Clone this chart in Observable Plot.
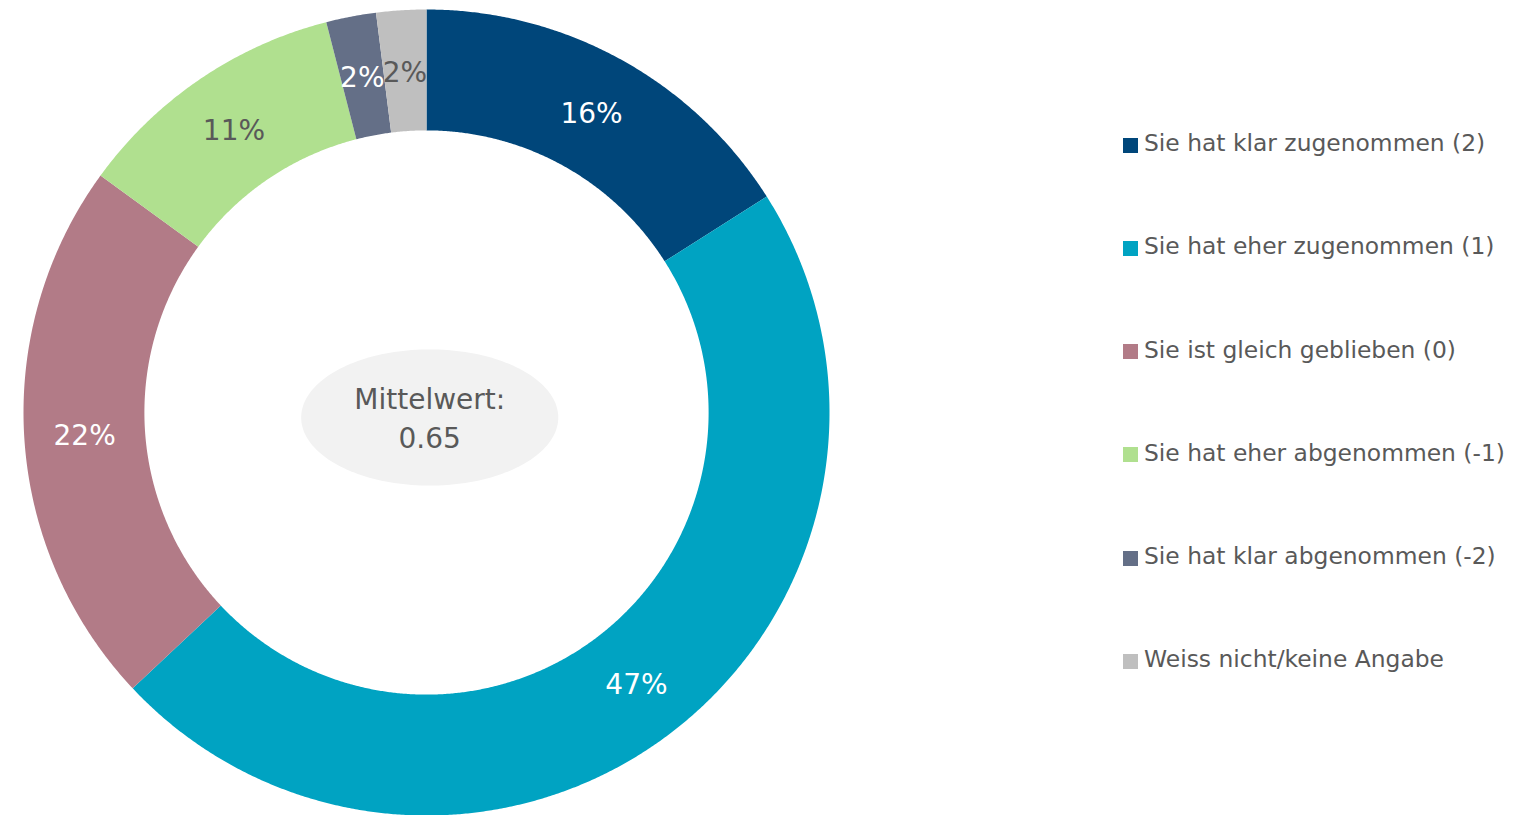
<!DOCTYPE html>
<html>
<head>
<meta charset="utf-8">
<script src="https://cdn.jsdelivr.net/npm/d3@7"></script>
<script src="https://cdn.jsdelivr.net/npm/@observablehq/plot@0.6"></script>
<style>
  html, body { margin: 0; padding: 0; background: #fff; }
  #wrap { position: relative; width: 1526px; height: 815px; overflow: hidden; font-family: "DejaVu Sans", Verdana, sans-serif; }
  #chart { position: absolute; left: 0; top: 0; }
  #legend { position: absolute; left: 1123px; top: 124px; }
  .item { display: flex; align-items: center; margin: 0; color: #595959; font-size: 23.4px; white-space: nowrap; height: 38px; margin-bottom: 65.3px; }
  .item .sw { width: 15px; height: 15px; margin-right: 6px; margin-top: 4px; flex: none; }
</style>
</head>
<body>
<div id="wrap">
  <div id="chart"></div>
  <div id="legend"></div>
</div>
<script>
const categories = [
  "Sie hat klar zugenommen (2)",
  "Sie hat eher zugenommen (1)",
  "Sie ist gleich geblieben (0)",
  "Sie hat eher abgenommen (-1)",
  "Sie hat klar abgenommen (-2)",
  "Weiss nicht/keine Angabe"
];
const shares = [16, 47, 22, 11, 2, 2];
const colors = ["#00467a", "#00a3c2", "#b27b87", "#b0e08f", "#646f87", "#bfbfbf"];
const labelColors = ["#ffffff", "#ffffff", "#ffffff", "#595959", "#ffffff", "#595959"];
const meanLabel = "Mittelwert:";
const meanValue = "0.65";

const R1 = 1, R0 = 0.70;
const total = d3.sum(shares);
let cum = 0;
const slices = categories.map((c, i) => {
  const a0 = cum / total * 2 * Math.PI;
  cum += shares[i];
  const a1 = cum / total * 2 * Math.PI;
  return {cat: c, value: shares[i], a0, a1, i};
});

// polygon outline of each ring segment (computed from data)
const ringPts = [];
for (const s of slices) {
  const n = Math.max(8, Math.ceil((s.a1 - s.a0) / 0.005));
  for (let k = 0; k <= n; k++) {
    const a = s.a0 + (s.a1 - s.a0) * k / n;
    ringPts.push({cat: s.cat, x: R1 * Math.sin(a), y: R1 * Math.cos(a)});
  }
  for (let k = n; k >= 0; k--) {
    const a = s.a0 + (s.a1 - s.a0) * k / n;
    ringPts.push({cat: s.cat, x: R0 * Math.sin(a), y: R0 * Math.cos(a)});
  }
}

const labels = slices.map(s => {
  const a = (s.a0 + s.a1) / 2, r = (R0 + R1) / 2;
  return {x: r * Math.sin(a), y: r * Math.cos(a), text: s.value + "%", color: labelColors[s.i]};
});

// center ellipse
const ell = d3.range(0, 361, 2).map(t => ({
  x: 0.008 + 0.319 * Math.cos(t * Math.PI / 180),
  y: -0.0124 + 0.169 * Math.sin(t * Math.PI / 180)
}));

const W = 852, H = 815, PR = 403;
const chart = Plot.plot({
  width: W, height: H,
  margin: 0,
  x: {domain: [-426 / PR, (W - 426) / PR], axis: null},
  y: {domain: [-(H - 412) / PR, 412 / PR], axis: null},
  color: {domain: categories, range: colors},
  style: {fontFamily: "DejaVu Sans, Verdana, sans-serif", background: "transparent"},
  marks: [
    Plot.line(ringPts, {x: "x", y: "y", z: "cat", fill: "cat", stroke: "none", curve: "linear"}),
    Plot.line(ell, {x: "x", y: "y", fill: "#f2f2f2", stroke: "none"}),
    Plot.text(labels, {x: "x", y: "y", text: "text", fill: d => d.color, fontSize: 28, dy: 2}),
    Plot.text([meanLabel], {x: 0.008, y: 0.03, text: d => d, fill: "#595959", fontSize: 28}),
    Plot.text([meanValue], {x: 0.008, y: -0.066, text: d => d, fill: "#595959", fontSize: 28})
  ]
});
document.getElementById("chart").appendChild(chart);

const legend = document.getElementById("legend");
categories.forEach((c, i) => {
  const it = document.createElement("div");
  it.className = "item";
  const sw = document.createElement("span");
  sw.className = "sw";
  sw.style.background = colors[i];
  const tx = document.createElement("span");
  tx.textContent = c;
  it.appendChild(sw); it.appendChild(tx);
  legend.appendChild(it);
});
</script>
</body>
</html>
